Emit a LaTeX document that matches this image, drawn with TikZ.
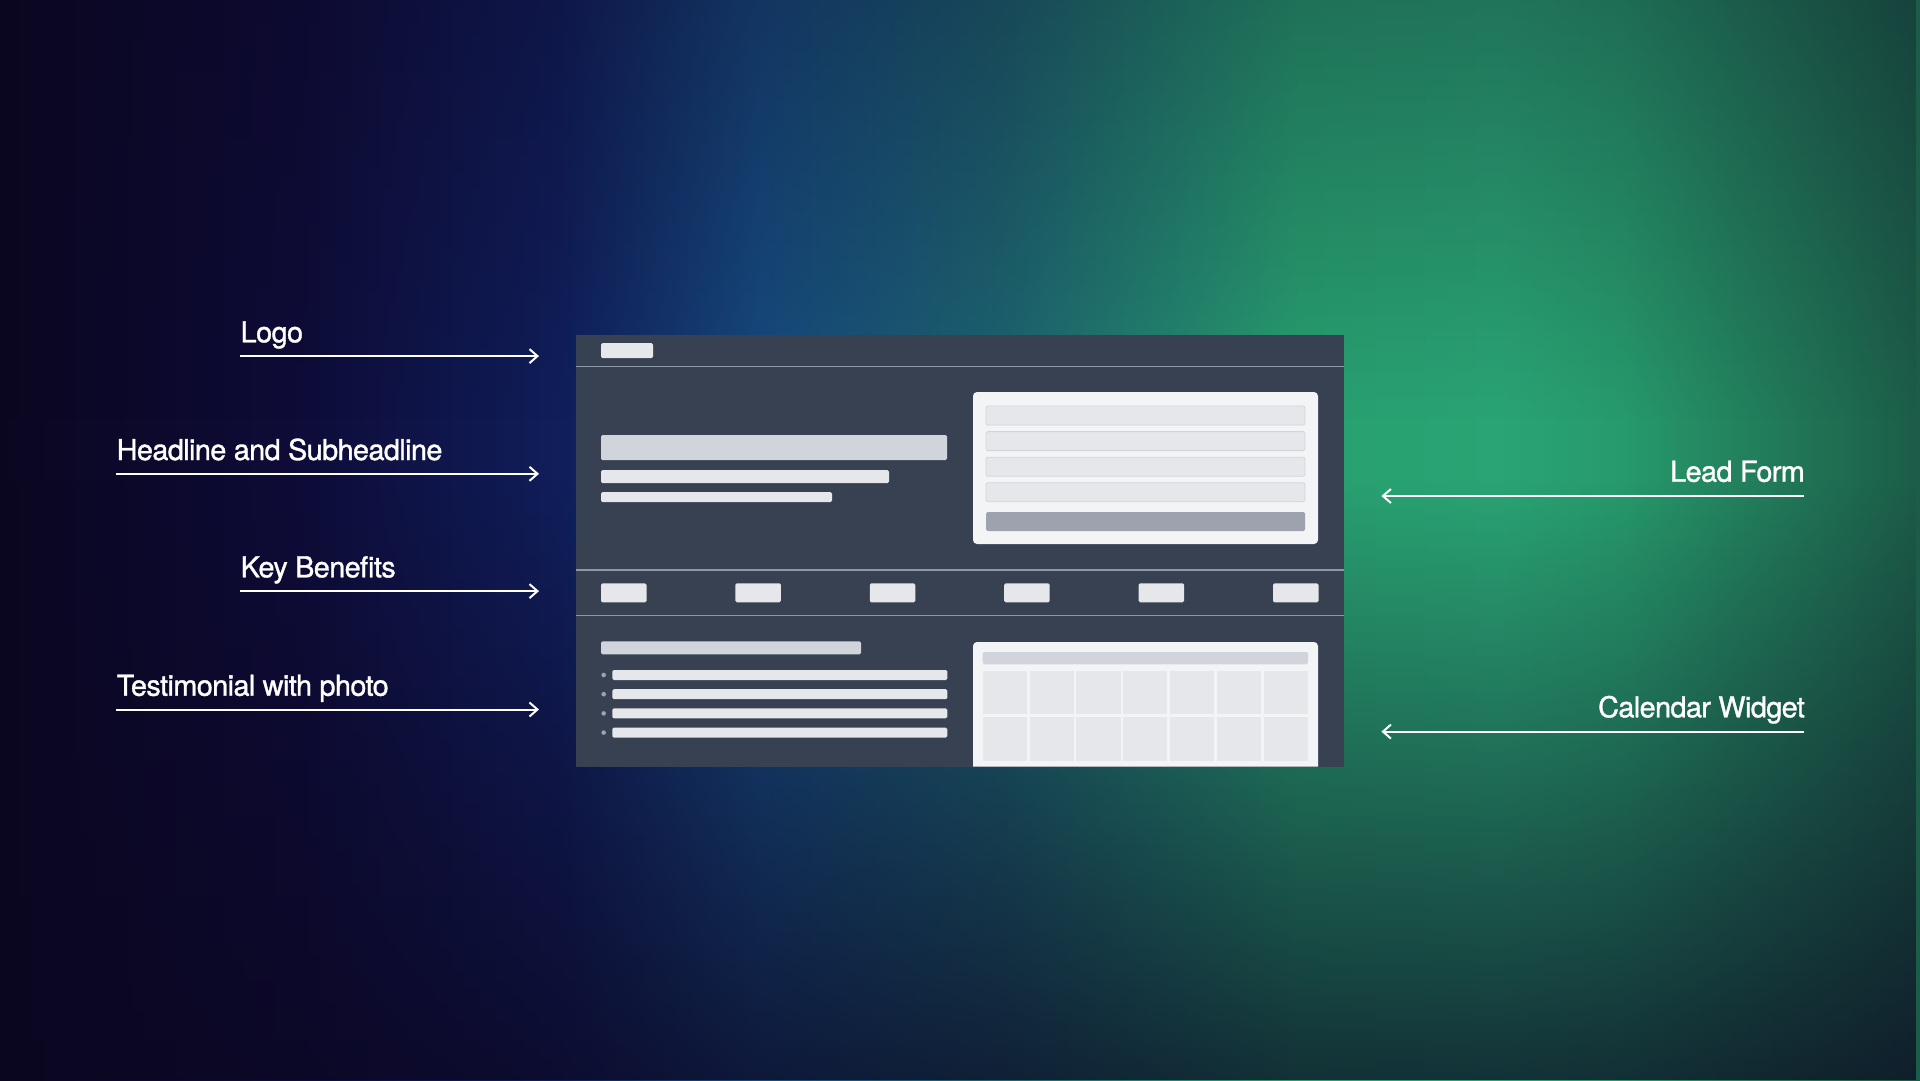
\documentclass[tikz,border=0pt]{standalone}
\usepackage{fontspec}
\setmainfont{TeX Gyre Heros}[LetterSpace=-2,FakeBold=1.2]
\usetikzlibrary{arrows.meta,positioning,fadings}

% backdrop colours, left to right
\definecolor{bgA}{HTML}{0B0620}
\definecolor{bgB}{HTML}{0E0C38}
\definecolor{bgC}{HTML}{101E5A}
\definecolor{bgD}{HTML}{164A7E}
\definecolor{bgE}{HTML}{1D6470}
\definecolor{bgF}{HTML}{28A070}
\definecolor{bgG}{HTML}{2AA474}
\definecolor{bgH}{HTML}{279A6C}
\definecolor{bgI}{HTML}{1C5C48}
% mock-up colours
\definecolor{slate}{HTML}{374151}
\definecolor{hair}{HTML}{8E98A7}
\definecolor{paper}{HTML}{F3F4F6}
\definecolor{fog}{HTML}{E5E7EB}
\definecolor{mist}{HTML}{D1D5DB}
\definecolor{stone}{HTML}{9CA3AF}

\pgfdeclarehorizontalshading{backdrop}{100bp}{color(0bp)=(bgA); color(25bp)=(bgA);
  color(32.81bp)=(bgB); color(39.58bp)=(bgC); color(44.79bp)=(bgD); color(51.04bp)=(bgE);
  color(58.85bp)=(bgF); color(64.06bp)=(bgG); color(67.19bp)=(bgH); color(75bp)=(bgI); color(100bp)=(bgI)}
\pgfdeclareverticalshading{rampup}{100bp}{color(0bp)=(white); color(25bp)=(white);
  color(75bp)=(black); color(100bp)=(black)}
\pgfdeclareverticalshading{rampdown}{100bp}{color(0bp)=(black); color(25bp)=(black);
  color(75bp)=(white); color(100bp)=(white)}
\pgfdeclarefading{fadeup}{\pgfuseshading{rampup}}
\pgfdeclarefading{fadedown}{\pgfuseshading{rampdown}}

\begin{document}
\begin{tikzpicture}[x=1pt,y=-1pt,
    label/.style={text=white,inner sep=0pt,font=\fontsize{28.8}{34}\selectfont},
    pointer/.style={draw=white,line width=2pt,shorten >=37pt,
      -{Straight Barb[length=8pt,width=14pt,line width=2pt]}},
    panel/.style={fill=slate,inner sep=0pt,anchor=north west},
    rule/.style={draw=hair,line width=1.2pt},
    bar/.style={fill=mist,rounded corners=1.5pt},
    tile/.style={fill=fog,rounded corners=1.5pt},
    card/.style={fill=paper,rounded corners=4pt},
    field/.style={fill=fog,draw=mist,line width=0.8pt,rounded corners=1.5pt},
    button/.style={fill=stone,rounded corners=1.5pt},
    dot/.style={fill=stone},
    cell/.style={fill=fog}]
    \useasboundingbox (0,0) rectangle (1920,1080);

    % backdrop
    \shade[shading=backdrop] (0,0) rectangle (1920,1080);
    \fill[bgA,opacity=0.3,path fading=fadedown] (0,0) rectangle (1920,420);
    \fill[bgA,opacity=0.72,path fading=fadeup] (0,480) rectangle (1920,1080);

    % page mock-up
    \node[panel,minimum width=768pt,minimum height=431.7pt] (page) at (576,335) {};
    \draw[rule] (576,366.7) -- (1344,366.7);
    \draw[rule] (576,570) -- (1344,570);
    \draw[rule] (576,615.3) -- (1344,615.3);
    \fill[tile] (601,343) rectangle (653,358);
    % hero
    \fill[bar] (601,435) rectangle (947,460);
    \fill[tile] (601,470) rectangle (889,483);
    \fill[tile] (601,492) rectangle (832,502);
    \fill[card] (973,392) rectangle (1318,544);
    \foreach \i in {0,...,3}
        \filldraw[field] (986,406+25.6*\i) rectangle +(319,19);
    \fill[button] (986,512) rectangle (1305,531);
    % benefits
    \foreach \i in {0,...,5}
        \fill[tile] (601+134.4*\i,583.3) rectangle +(45.5,19);
    % testimonial
    \fill[bar] (601,641.3) rectangle (861,654.3);
    \foreach \i in {0,...,3} {
        \fill[dot] (603.7,675+19.2*\i) circle (2.3);
        \fill[tile] (612.3,670+19.2*\i) rectangle +(335,10);
    }
    % calendar
    \fill[paper] (973,766.7) [rounded corners=4pt] -- (973,642) -- (1318,642)
        [sharp corners] -- (1318,766.7) -- cycle;
    \fill[bar] (982.7,652) rectangle (1308,664.3);
    \foreach \r in {0,1}
        \foreach \c in {0,...,6}
            \fill[cell] (982.7+46.8*\c,671+46.3*\r) rectangle +(44.2,43.4);

    % labels
    \node[label,anchor=base west] (logo)  at (240.5,342.3) {Logo};
    \node[label,anchor=base west] (hero)  at (116.5,460)   {Headline and Subheadline};
    \node[label,anchor=base west] (perks) at (240.5,577.3) {Key Benefits};
    \node[label,anchor=base west] (quote) at (116.5,695.7) {Testimonial with photo};
    \node[label,anchor=base east] (lead)  at (1805,481.7) {Lead Form};
    \node[label,anchor=base east] (cal)   at (1805,717.3) {Calendar Widget};

    \foreach \n in {logo,hero,perks,quote}
        \coordinate (\n-tail) at ([xshift=-0.5pt,yshift=-13.8pt]\n.base west);
    \foreach \n in {lead,cal}
        \coordinate (\n-tail) at ([xshift=-1pt,yshift=-14.3pt]\n.base east);

    \foreach \n in {logo,hero,perks,quote}
        \draw[pointer] (\n-tail) -- (\n-tail -| page.west);
    \foreach \n in {lead,cal}
        \draw[pointer] (\n-tail) -- (\n-tail -| page.east);
\end{tikzpicture}
\end{document}
